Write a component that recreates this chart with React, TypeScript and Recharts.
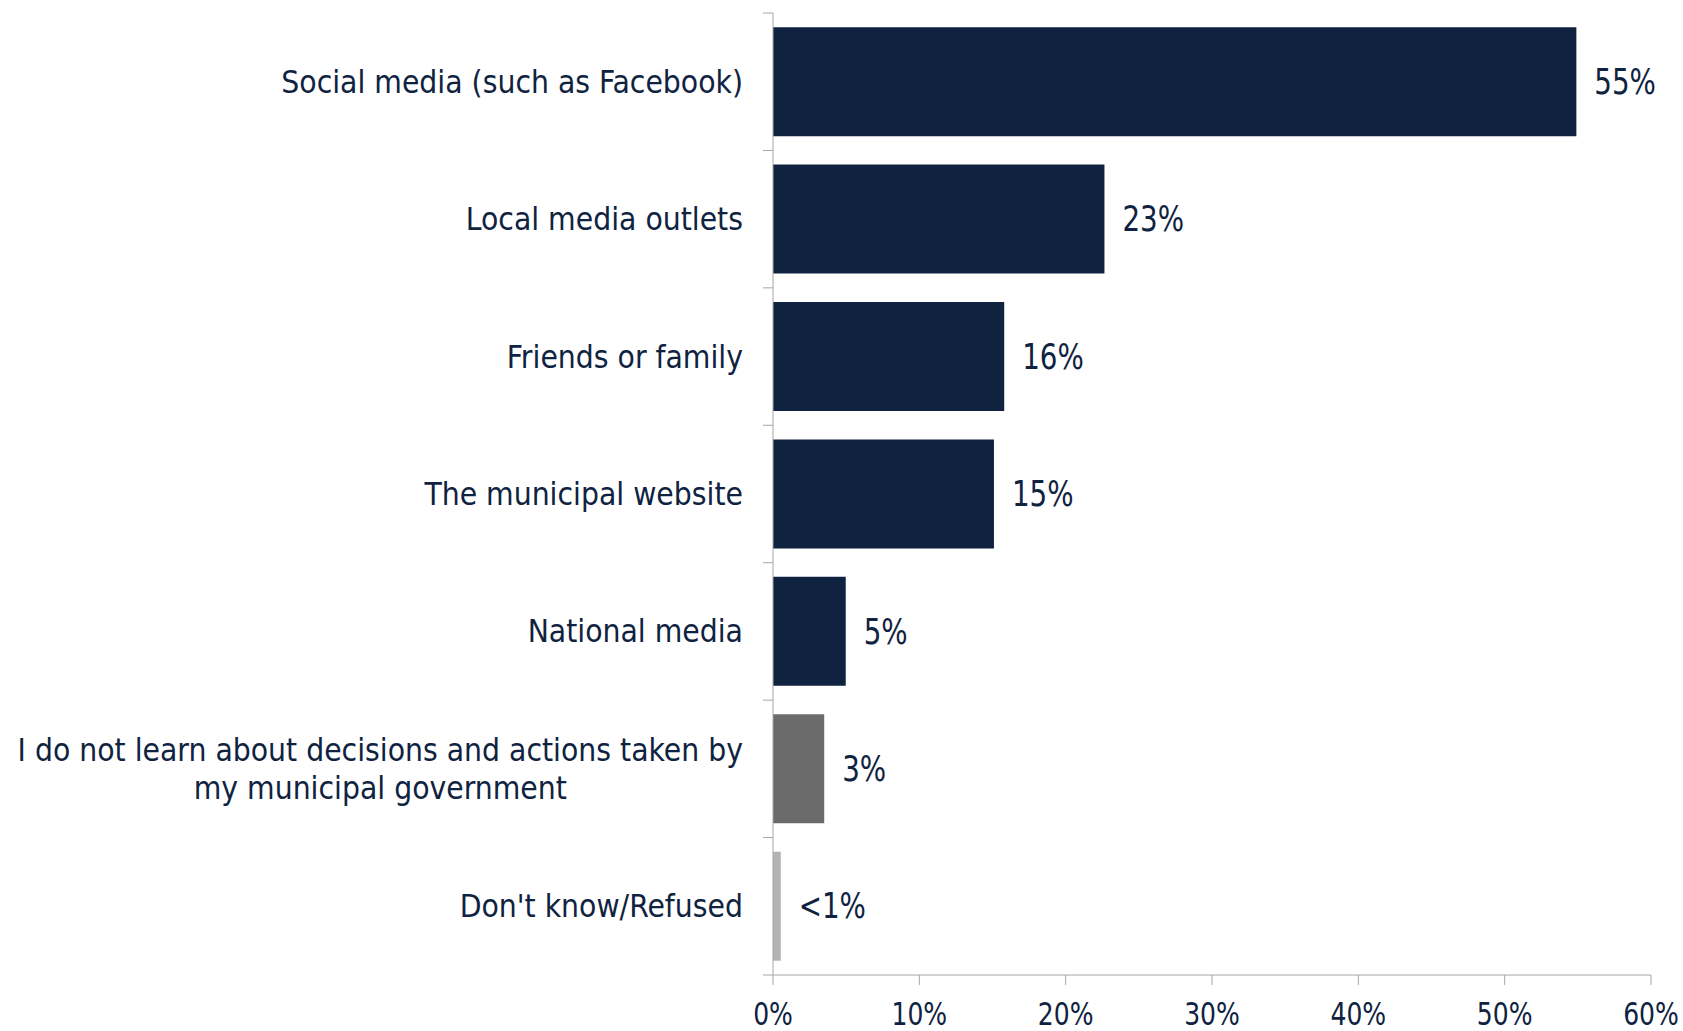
import { BarChart, Bar, XAxis, YAxis, Cell, LabelList } from "recharts";

const categories = [
  "Social media (such as Facebook)",
  "Local media outlets",
  "Friends or family",
  "The municipal website",
  "National media",
  "I do not learn about decisions and actions taken by\nmy municipal government",
  "Don't know/Refused",
];
const values = [54.9, 22.65, 15.8, 15.1, 4.97, 3.5, 0.53];
const valueLabels = ["55%", "23%", "16%", "15%", "5%", "3%", "<1%"];
const barColors = ["#0f2341", "#0f2341", "#0f2341", "#0f2341", "#0f2341", "#6b6b6b", "#b3b3b3"];
const xTicks = [0, 10, 20, 30, 40, 50, 60];

const NAVY = "#0f2341";
const AXIS = "#a6a6a6";
const FONT = '"DejaVu Sans Condensed", "Liberation Sans Narrow", sans-serif';
const CAT_SIZE = 31.5;
const TICK_LEN = 10;
const TICK_GAP = 20;

const chartData = categories.map((name, i) => ({
  name,
  value: values[i],
  label: valueLabels[i],
}));

let ctx: CanvasRenderingContext2D | null = null;
function textWidth(s: string): number {
  if (!ctx) ctx = document.createElement("canvas").getContext("2d");
  if (!ctx) return s.length * CAT_SIZE * 0.45;
  ctx.font = `${CAT_SIZE}px ${FONT}`;
  return ctx.measureText(s).width;
}

// category label plus a tick mark on the band boundary (like Excel)
function CategoryTick(props: any) {
  const { x, y, payload, index, visibleTicksCount } = props;
  const half = payload.offset || 68.7;
  const lx1 = x + TICK_GAP;
  const lx2 = lx1 + TICK_LEN;
  const lines = String(payload.value).split("\n");
  const lineH = 38;
  let label;
  if (lines.length === 1) {
    label = (
      <text x={x} y={y} dy="0.35em" textAnchor="end" fill={NAVY} fontSize={CAT_SIZE} fontFamily={FONT}>
        {lines[0]}
      </text>
    );
  } else {
    const w = Math.max(...lines.map(textWidth));
    const cx = x - w / 2;
    const start = y - ((lines.length - 1) * lineH) / 2;
    label = (
      <text textAnchor="middle" fill={NAVY} fontSize={CAT_SIZE} fontFamily={FONT}>
        {lines.map((l, i) => (
          <tspan key={i} x={cx} y={start + i * lineH} dy="0.35em">
            {l}
          </tspan>
        ))}
      </text>
    );
  }
  return (
    <g>
      <line x1={lx1} x2={lx2} y1={y - half} y2={y - half} stroke={AXIS} />
      {index === visibleTicksCount - 1 && (
        <line x1={lx1} x2={lx2} y1={y + half} y2={y + half} stroke={AXIS} />
      )}
      {label}
    </g>
  );
}

// narrow-looking percent text (squeezed horizontally)
function PercentTick(props: any) {
  const { x, y, payload } = props;
  return (
    <text
      transform={`translate(${x},${y}) scale(0.87,1)`}
      dy="0.71em"
      textAnchor="middle"
      fill={NAVY}
      fontSize={32}
      fontFamily={FONT}
    >
      {`${payload.value}%`}
    </text>
  );
}

function ValueLabel(props: any) {
  const { x, y, width, height, value } = props;
  return (
    <text
      transform={`translate(${x + width + 18},${y + height / 2}) scale(0.88,1)`}
      dy="0.35em"
      textAnchor="start"
      fill={NAVY}
      fontSize={35}
      fontFamily={FONT}
    >
      {value}
    </text>
  );
}

export default function App() {
  return (
    <div style={{ position: "absolute", left: 0, top: 0, background: "#fff" }}>
      <BarChart
        width={1683}
        height={1031}
        data={chartData}
        layout="vertical"
        margin={{ top: 13, right: 32, bottom: 0, left: 0 }}
        barCategoryGap="10.3%"
      >
        <XAxis
          type="number"
          domain={[0, 60]}
          ticks={xTicks}
          stroke={AXIS}
          tickSize={10}
          tick={<PercentTick />}
          tickMargin={17}
          height={56}
        />
        <YAxis
          type="category"
          dataKey="name"
          width={773}
          stroke={AXIS}
          tickLine={false}
          tickSize={TICK_LEN}
          tickMargin={TICK_GAP}
          tick={<CategoryTick />}
          interval={0}
        />
        <Bar dataKey="value" isAnimationActive={false}>
          {chartData.map((d, i) => (
            <Cell key={d.name} fill={barColors[i]} />
          ))}
          <LabelList dataKey="label" content={<ValueLabel />} />
        </Bar>
      </BarChart>
    </div>
  );
}
